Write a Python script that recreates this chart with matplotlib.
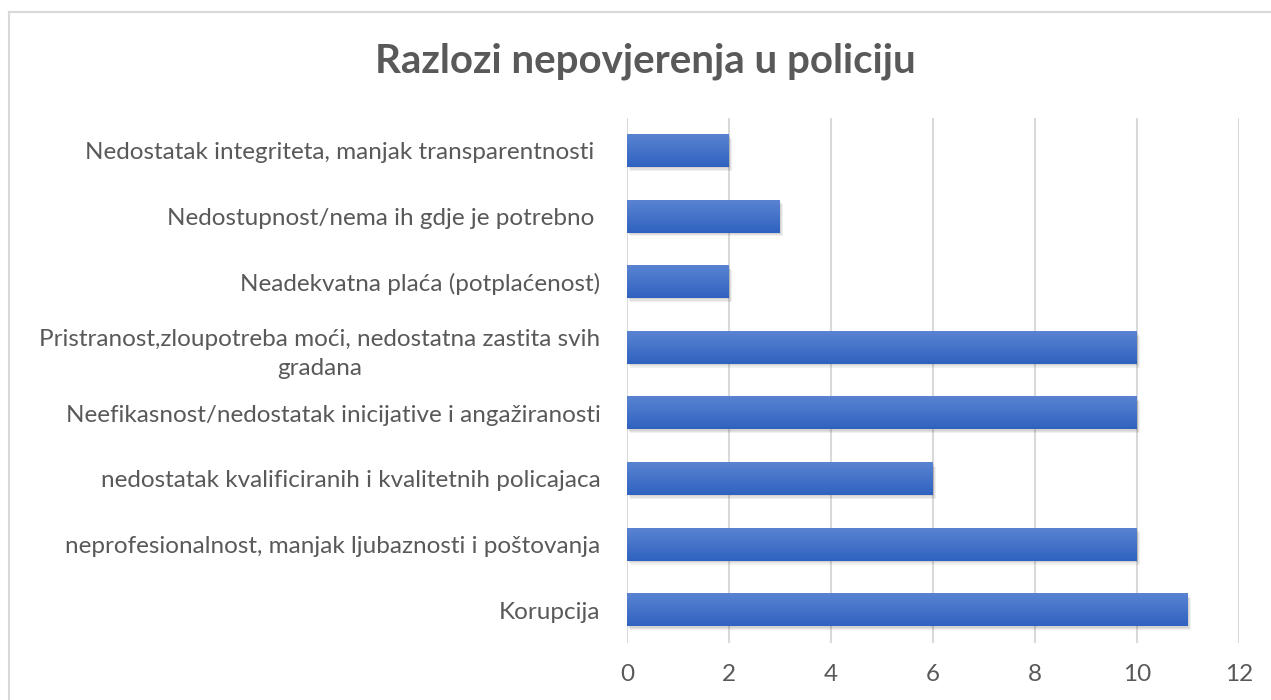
import numpy as np
import matplotlib.pyplot as plt
from matplotlib.colors import LinearSegmentedColormap
from matplotlib.patches import Rectangle

# podaci (odozdo prema gore)
kategorije = [
    'Korupcija',
    'neprofesionalnost, manjak ljubaznosti i poštovanja',
    'nedostatak kvalificiranih i kvalitetnih policajaca',
    'Neefikasnost/nedostatak inicijative i angažiranosti',
    'Pristranost,zloupotreba moći, nedostatna zastita svih\ngradana',
    'Neadekvatna plaća (potplaćenost)',
    'Nedostupnost/nema ih gdje je potrebno ',
    'Nedostatak integriteta, manjak transparentnosti ',
]
vrijednosti = [11, 10, 6, 10, 10, 2, 3, 2]
x_ticks = [0, 2, 4, 6, 8, 10, 12]

plt.rcParams['font.family'] = ['Lato', 'DejaVu Sans']
siva = '#595959'

fig = plt.figure(figsize=(12.71, 7), dpi=100)
ax = fig.add_axes([0.4933, 0.0814, 0.4815, 0.75])

y = np.arange(len(kategorije))
visina = 0.49
bars = ax.barh(y, vrijednosti, height=visina, color='none')

# gradijent kao u Excelu + lagana sjena
cmap = LinearSegmentedColormap.from_list('plava', ['#2f62c0', '#5a84d2'])
grad = np.linspace(0, 1, 64).reshape(-1, 1)
for b in bars:
    x0, y0 = b.get_x(), b.get_y()
    w, h = b.get_width(), b.get_height()
    for k in range(3):
        ax.add_patch(Rectangle((x0 + 0.02 + 0.015 * k, y0 - 0.02 - 0.02 * k), w, h,
                               color='#000000', alpha=0.06, lw=0, zorder=2))
    ax.imshow(grad, extent=(x0, x0 + w, y0, y0 + h), cmap=cmap,
              aspect='auto', origin='lower', zorder=3, interpolation='bilinear')

ax.set_xlim(0, 12)
ax.set_ylim(-0.5, len(kategorije) - 0.5)
ax.set_xticks(x_ticks)
ax.set_yticks(y)
ax.set_yticklabels(kategorije, multialignment='center', linespacing=1.5)
ax.tick_params(axis='both', length=0, labelsize=17.5, colors=siva)
ax.tick_params(axis='y', pad=19)
ax.tick_params(axis='x', pad=15)
ax.grid(axis='x', color='#d9d9d9', lw=1.5, zorder=0)
ax.set_axisbelow(True)
for s in ax.spines.values():
    s.set_visible(False)

fig.text(0.5075, 0.913, 'Razlozi nepovjerenja u policiju', ha='center',
         va='center', fontsize=29, fontweight='bold', color=siva)

# okvir grafikona (desni i donji rub su odrezani)
fig.add_artist(plt.Line2D([9 / 1271, 9 / 1271], [0, 1 - 12 / 700],
                          color='#d9d9d9', lw=1.5, transform=fig.transFigure))
fig.add_artist(plt.Line2D([9 / 1271, 1], [1 - 12 / 700, 1 - 12 / 700],
                          color='#d9d9d9', lw=1.5, transform=fig.transFigure))

fig.savefig('out.png', dpi=100)
